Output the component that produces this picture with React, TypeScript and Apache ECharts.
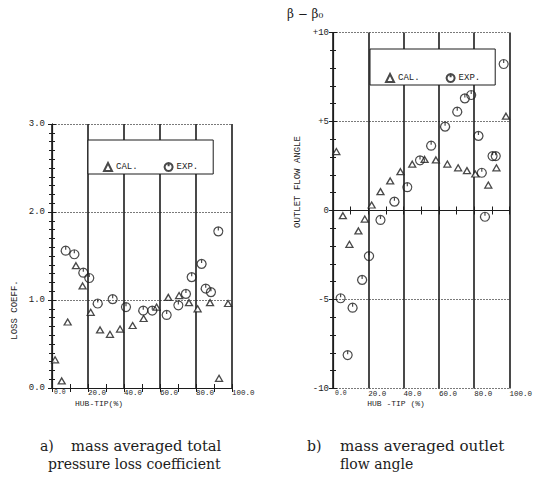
import React, { useEffect, useRef } from "react";
import * as echarts from "echarts";

// a) mass averaged total pressure loss coefficient
const lossCalX = [1.7, 5.4, 8.7, 13.3, 17.0, 21.5, 26.7, 32.2, 37.8, 44.8, 50.9, 58.1, 64.6, 70.6, 76.1, 80.9, 87.8, 92.8, 97.8];
const lossCalY = [0.32, 0.08, 0.75, 1.39, 1.16, 0.86, 0.66, 0.61, 0.67, 0.71, 0.79, 0.92, 1.03, 1.05, 0.97, 0.9, 0.97, 0.11, 0.96];
const lossExpX = [7.6, 12.4, 17.4, 20.7, 25.4, 33.7, 41.1, 50.7, 55.7, 63.7, 70.2, 74.4, 77.6, 83.1, 85.4, 88.3, 92.4];
const lossExpY = [1.56, 1.52, 1.31, 1.25, 0.96, 1.01, 0.92, 0.88, 0.88, 0.83, 0.94, 1.07, 1.26, 1.41, 1.13, 1.09, 1.78];

// b) mass averaged outlet flow angle
const angCalX = [1.9, 5.6, 9.3, 14.4, 18.0, 21.9, 26.9, 32.4, 38.2, 44.9, 51.9, 58.3, 64.8, 70.9, 75.9, 80.6, 88.0, 92.6, 98.0];
const angCalY = [3.31, -0.29, -1.9, -1.15, -0.48, 0.31, 1.06, 1.66, 2.18, 2.6, 2.87, 2.84, 2.61, 2.4, 2.24, 2.05, 1.43, 2.4, 5.3];
const angExpX = [4.3, 8.3, 11.1, 16.5, 20.4, 26.9, 34.8, 42.1, 49.3, 55.6, 63.5, 70.4, 74.7, 78.3, 82.4, 84.3, 86.1, 90.4, 92.2, 96.7];
const angExpY = [-4.93, -8.12, -5.46, -3.9, -2.56, -0.53, 0.5, 1.31, 2.82, 3.64, 4.71, 5.55, 6.3, 6.49, 4.19, 2.12, -0.35, 3.06, 3.06, 8.23];

const calName = "CAL.";
const expName = "EXP.";
const lossTitle = "LOSS COEFF.";
const lossXTitle = "HUB-TIP(%)";
const angTitle = "OUTLET FLOW ANGLE";
const angXTitle = "HUB -TIP (%)";
const angUnit = "β − β₀";
const captionA = ["a)", "mass averaged total", "pressure loss coefficient"];
const captionB = ["b)", "mass averaged outlet", "flow angle"];

const MONO = "'Liberation Mono', 'DejaVu Sans Mono', monospace";
const SERIF = "'DejaVu Serif', 'Liberation Serif', serif";
const INK = "#1c1c1c";

const circleSym = "path://M5,0 A5,5 0 1,1 4.99,0 Z M5,0 L5,4";

const zip = (xs: number[], ys: number[]) => xs.map((x, i) => [x, ys[i]]);

function xAxes(gridIndex: number) {
  return [
    {
      type: "value",
      gridIndex,
      min: 0,
      max: 100,
      interval: 20,
      position: "bottom",
      axisLine: { show: true, lineStyle: { color: INK, width: 1 } },
      axisTick: { show: true, inside: true, length: 4, lineStyle: { color: INK } },
      minorTick: { show: true, splitNumber: 2, length: 4, lineStyle: { color: INK } },
      splitLine: { show: true, lineStyle: { color: INK, width: 1.6 } },
      axisLabel: {
        show: true,
        align: "left",
        margin: 1,
        fontFamily: MONO,
        fontSize: 7.5,
        color: INK,
        formatter: (v: number) => (v === 0 ? "{s|0.0}" : v.toFixed(1)),
        rich: { s: { fontFamily: MONO, fontSize: 6.5, color: INK, padding: [0, 0, 3, 2] } },
      },
    },
    {
      type: "value",
      gridIndex,
      min: 0,
      max: 100,
      interval: 20,
      position: "top",
      axisLine: { show: true, lineStyle: { color: INK, width: 1 } },
      axisTick: { show: true, inside: true, length: 4, lineStyle: { color: INK } },
      minorTick: { show: true, splitNumber: 2, length: 4, lineStyle: { color: INK } },
      splitLine: { show: false },
      axisLabel: { show: false },
    },
  ];
}

function yAxes(gridIndex: number, min: number, max: number, interval: number, minorSplit: number, fmt: (v: number) => string, margin: number) {
  return [
    {
      type: "value",
      gridIndex,
      min,
      max,
      interval,
      position: "left",
      axisLine: { show: true, lineStyle: { color: INK, width: 1.2 } },
      axisTick: { show: true, inside: true, length: 4, lineStyle: { color: INK } },
      minorTick: { show: true, splitNumber: minorSplit, length: 3, lineStyle: { color: INK } },
      splitLine: { show: true, lineStyle: { color: "#7a7a7a", width: 1, type: [2, 1] } },
      axisLabel: { show: true, margin, fontFamily: MONO, fontSize: 9, color: INK, formatter: fmt },
    },
    {
      type: "value",
      gridIndex,
      min,
      max,
      interval,
      position: "right",
      axisLine: { show: true, lineStyle: { color: INK, width: 1 } },
      axisTick: { show: true, inside: true, length: 4, lineStyle: { color: INK } },
      minorTick: { show: true, splitNumber: minorSplit, length: 3, lineStyle: { color: INK } },
      splitLine: { show: false },
      axisLabel: { show: false },
    },
  ];
}

const calStyle = { color: "#ffffff", borderColor: INK, borderWidth: 1.3 };
const expStyle = { color: "rgba(255,255,255,0)", borderColor: INK, borderWidth: 1.2 };

function legendAt(left: number, top: number, padTop: number) {
  return {
    left,
    top,
    orient: "horizontal",
    data: [calName, expName],
    backgroundColor: "#ffffff",
    borderColor: INK,
    borderWidth: 1,
    padding: [padTop, 15, 2, 15],
    itemWidth: 8,
    itemHeight: 8,
    itemGap: 26,
    selectedMode: false,
    textStyle: { fontFamily: MONO, fontSize: 9, color: INK, padding: [0, 0, 0, -1] },
  };
}

function txt(x: number, y: number, text: string, font: string, size: number, align = "left", rotation = 0, scaleX = 1) {
  return {
    type: "text",
    x,
    y,
    rotation,
    scaleX,
    style: {
      text,
      fontFamily: font,
      fontSize: size,
      fill: INK,
      align,
      verticalAlign: "middle",
      textAlign: align,
      textVerticalAlign: "middle",
    },
  };
}

export default function App() {
  const ref = useRef<HTMLDivElement>(null);
  useEffect(() => {
    if (!ref.current) return;
    const chart = echarts.init(ref.current, undefined, { renderer: "svg" });
    const option: any = {
      animation: false,
      backgroundColor: "#ffffff",
      grid: [
        { left: 52, top: 124, width: 180, height: 264, show: false },
        { left: 333, top: 32.5, width: 180, height: 356, show: false },
      ],
      xAxis: [...xAxes(0), ...xAxes(1)],
      yAxis: [
        ...yAxes(0, 0, 3, 1, 10, (v: number) => v.toFixed(1), 7),
        ...yAxes(1, -10, 10, 5, 5, (v: number) => (v > 0 ? "+" + v : String(v)), 4),
      ],
      legend: [legendAt(88, 140, 22), legendAt(370, 49, 24)],
      series: [
        { name: calName, type: "scatter", xAxisIndex: 0, yAxisIndex: 0, symbol: "triangle", symbolSize: [7, 6], itemStyle: calStyle, data: zip(lossCalX, lossCalY), z: 5 },
        { name: expName, type: "scatter", xAxisIndex: 0, yAxisIndex: 0, symbol: circleSym, symbolSize: 9, itemStyle: expStyle, data: zip(lossExpX, lossExpY), z: 5 },
        { name: calName, type: "scatter", xAxisIndex: 2, yAxisIndex: 2, symbol: "triangle", symbolSize: [7, 6], itemStyle: calStyle, data: zip(angCalX, angCalY), z: 5 },
        { name: expName, type: "scatter", xAxisIndex: 2, yAxisIndex: 2, symbol: circleSym, symbolSize: 9, itemStyle: expStyle, data: zip(angExpX, angExpY), z: 5 },
      ],
      graphic: [
        txt(15, 310, lossTitle, MONO, 9, "center", Math.PI / 2),
        txt(99, 403.5, lossXTitle, MONO, 8, "center"),
        txt(298, 182, angTitle, MONO, 9, "center", Math.PI / 2),
        txt(396, 403, angXTitle, MONO, 8, "center"),
        txt(287, 14, angUnit, SERIF, 12, "left"),
        txt(40, 446, captionA[0], SERIF, 14, "left"),
        txt(71, 446, captionA[1], SERIF, 14, "left", 0, 1.05),
        txt(48, 464, captionA[2], SERIF, 14, "left"),
        txt(307, 446, captionB[0], SERIF, 14, "left"),
        txt(340, 446, captionB[1], SERIF, 14, "left", 0, 1.08),
        txt(340, 464, captionB[2], SERIF, 14, "left"),
      ],
    };
    chart.setOption(option);
    return () => chart.dispose();
  }, []);
  return <div ref={ref} style={{ position: "fixed", left: 0, top: 0, width: 535, height: 496 }} />;
}
